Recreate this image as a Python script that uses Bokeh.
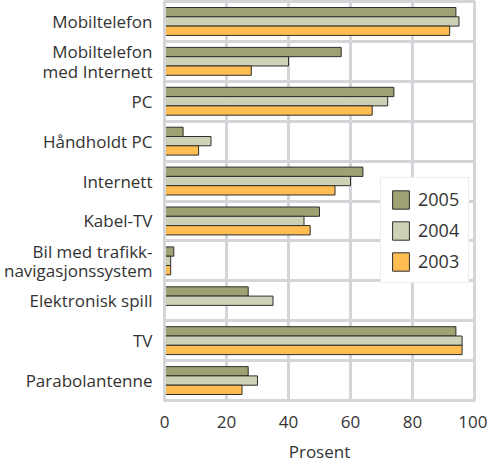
from bokeh.plotting import figure
from bokeh.models import ColumnDataSource, Range1d, FixedTicker, Legend, LegendItem
from bokeh.embed import file_html
from bokeh.resources import INLINE

categories = ["Mobiltelefon", "Mobiltelefon\nmed Internett", "PC", "Håndholdt PC", "Internett",
              "Kabel-TV", "Bil med trafikk-\nnavigasjonssystem", "Elektronisk spill", "TV", "Parabolantenne"]
v2005 = [94, 57, 74, 6, 64, 50, 3, 27, 94, 27]
v2004 = [95, 40, 72, 15, 60, 45, 2, 35, 96, 30]
v2003 = [92, 28, 67, 11, 55, 47, 2, 0, 96, 25]
series = ["2005", "2004", "2003"]
colors = ["#9ea272", "#cfd1b7", "#ffbd52"]
x_ticks = [0, 20, 40, 60, 80, 100]

n = len(categories)
centers = [n - i - 0.5 for i in range(n)]
bh = 0.233
FONT = "Open Sans"
GRID = "#d3d5d9"

p = figure(frame_width=310, frame_height=399, output_backend="svg", toolbar_location=None,
           x_range=Range1d(0, 100), y_range=Range1d(0, n),
           min_border_left=155, min_border_right=13, min_border_top=1, min_border_bottom=45)
p.background_fill_color = "white"
p.border_fill_color = "white"
p.outline_line_color = GRID
p.outline_line_width = 3

renderers = []
for k, (name, vals, col) in enumerate(zip(series, [v2005, v2004, v2003], colors)):
    off = (1 - k) * bh
    src = ColumnDataSource(dict(y=[c + off for c in centers], right=vals))
    r = p.hbar(y="y", right="right", left=0, height=bh, source=src,
               fill_color=col, line_color="#2e2e2e", line_width=1)
    renderers.append((name, r))

p.xaxis.ticker = FixedTicker(ticks=x_ticks)
p.yaxis.ticker = FixedTicker(ticks=centers)
p.yaxis.major_label_overrides = {c: cat for c, cat in zip(centers, categories)}
p.xgrid.ticker = FixedTicker(ticks=x_ticks)
p.ygrid.ticker = FixedTicker(ticks=list(range(n + 1)))
for g in (p.xgrid, p.ygrid):
    g.grid_line_color = GRID
    g.grid_line_width = 3

for ax in (p.xaxis, p.yaxis):
    ax.axis_line_color = GRID
    ax.axis_line_width = 3
    ax.major_tick_line_color = None
    ax.minor_tick_line_color = None
    ax.major_label_text_font = FONT
    ax.major_label_text_font_size = "17px"
    ax.major_label_text_color = "#333333"
p.yaxis.major_label_text_line_height = 0.85
p.yaxis.major_label_standoff = 6
p.xaxis.major_label_standoff = 9
p.xaxis.axis_label = "Prosent"
p.xaxis.axis_label_text_font = FONT
p.xaxis.axis_label_text_font_size = "17px"
p.xaxis.axis_label_text_font_style = "normal"
p.xaxis.axis_label_text_color = "#333333"
p.xaxis.axis_label_standoff = 9

legend = Legend(items=[LegendItem(label=nm, renderers=[r]) for nm, r in renderers],
                location=(216, 117), glyph_width=21, glyph_height=23, label_standoff=7,
                spacing=7, padding=9, margin=0,
                label_text_font=FONT, label_text_font_size="18px", label_text_color="#333333",
                border_line_color="#dcdcdc", border_line_width=1, background_fill_color="white",
                background_fill_alpha=1.0)
p.add_layout(legend)

open("out.html", "w").write(file_html(p, INLINE))
